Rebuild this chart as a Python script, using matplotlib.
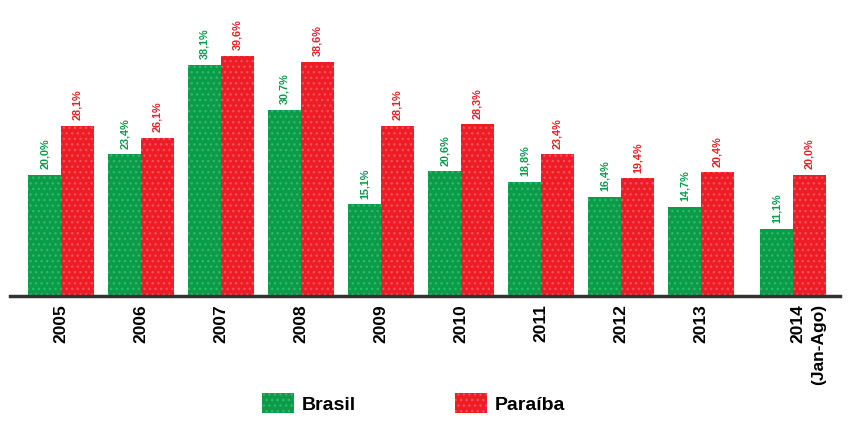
import numpy as np
import matplotlib.pyplot as plt
from matplotlib.transforms import ScaledTranslation

plt.rcParams['font.family'] = ['Liberation Sans', 'DejaVu Sans']

years = ['2005', '2006', '2007', '2008', '2009', '2010', '2011', '2012', '2013', '2014\n(Jan-Ago)']
brasil = [20.0, 23.4, 38.1, 30.7, 15.1, 20.6, 18.8, 16.4, 14.7, 11.1]
paraiba = [28.1, 26.1, 39.6, 38.6, 28.1, 28.3, 23.4, 19.4, 20.4, 20.0]

green = '#0b9c4a'
red = '#ee1c25'

fig = plt.figure(figsize=(8.48, 4.22), dpi=100)
ax = fig.add_axes([0.012, 0.2986, 0.978, 0.6896])

# last group sits a bit further right in the original
x = np.arange(len(years), dtype=float)
x[-1] += 0.15
w = 0.41

b1 = ax.bar(x - w / 2, brasil, w, color=green, hatch='...', edgecolor='#2fb86a', linewidth=0, label='Brasil')
b2 = ax.bar(x + w / 2, paraiba, w, color=red, hatch='...', edgecolor='#f5505a', linewidth=0, label='Paraíba')

def fmt(v):
    return f'{v:.1f}'.replace('.', ',') + '%'

for bars, vals, c in [(b1, brasil, green), (b2, paraiba, red)]:
    for r, v in zip(bars, vals):
        ax.annotate(fmt(v), (r.get_x() + r.get_width() / 2, v), xytext=(0, 4),
                    textcoords='offset points', rotation=90, ha='center', va='bottom',
                    color=c, fontsize=7.8, fontweight='bold')

ax.set_xlim(-0.637, 9.73)
ax.set_ylim(0, 48)
ax.set_yticks([])
for s in ['left', 'right', 'top']:
    ax.spines[s].set_visible(False)
ax.spines['bottom'].set_linewidth(2.5)
ax.spines['bottom'].set_color('#333333')

ax.set_xticks(x)
ax.set_xticklabels(years, rotation=90, fontsize=12.5, fontweight='bold', va='top',
                   ha='center', multialignment='right', linespacing=1.5)
ax.tick_params(axis='x', length=0, pad=6)
# two-line label: keep the year line on the group centre
last = ax.get_xticklabels()[-1]
last.set_transform(last.get_transform() + ScaledTranslation(15 / 100, 0, fig.dpi_scale_trans))

fig.legend(handles=[b1, b2], labels=['Brasil', 'Paraíba'], loc='lower left',
           bbox_to_anchor=(0.295, -0.008), ncol=2, frameon=False, borderpad=0.1,
           prop={'weight': 'bold', 'size': 14}, handlelength=1.65, handleheight=1.15,
           columnspacing=5.1, handletextpad=0.4)

fig.savefig('out.png', dpi=100)
